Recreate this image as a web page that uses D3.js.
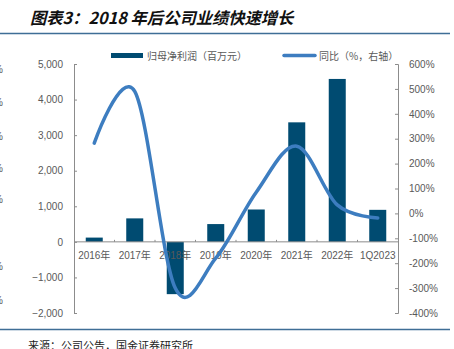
<!DOCTYPE html>
<html><head><meta charset="utf-8">
<script src="https://cdn.jsdelivr.net/npm/d3@7"></script>
<style>body{margin:0;background:#fff}svg{display:block}</style>
</head><body>
<script>
const categories = ["2016年","2017年","2018年","2019年","2020年","2021年","2022年","1Q2023"];
const profit = [120, 660, -1470, 500, 910, 3360, 4580, 900];
const yoy = [282, 490, -300, -180, 85, 270, 34, -18];
const leftTicks = [-2000,-1000,0,1000,2000,3000,4000,5000];
const rightTicks = [-400,-300,-200,-100,0,100,200,300,400,500,600];
const title = "图表3：2018 年后公司业绩快速增长";
const legendBar = "归母净利润（百万元）";
const legendLine = "同比（%，右轴）";
const source = "来源：公司公告，国金证券研究所";

const W=454,H=349;
const svg=d3.select("body").append("svg").attr("width",W).attr("height",H);
const font="'Liberation Sans','Noto Sans CJK SC',sans-serif";
const cjk="'Noto Sans CJK SC',sans-serif";
const barColor="#004b71", lineColor="#3d7dc0", textColor="#595959", axisColor="#8c8c8c";

// title
svg.append("text").attr("x",30).attr("y",24).text(title)
  .attr("font-family",cjk).attr("font-size",16.3).attr("font-weight","bold")
  .attr("font-style","italic").attr("fill","#111");
svg.append("line").attr("x1",0).attr("x2",450).attr("y1",33.5).attr("y2",33.5)
  .attr("stroke","#3f6e96").attr("stroke-width",1.5);
svg.append("line").attr("x1",0).attr("x2",450).attr("y1",329.5).attr("y2",329.5)
  .attr("stroke","#3f6e96").attr("stroke-width",1.5);
svg.append("text").attr("x",28).attr("y",350).text(source)
  .attr("font-family",cjk).attr("font-size",11).attr("fill","#222");

// left cut-off fragments
[69,102,136,168,199,266,300].forEach(y=>{
  svg.append("text").attr("x",3).attr("y",y+4).attr("text-anchor","end")
   .attr("font-family",font).attr("font-size",10).attr("fill",textColor).text("0%");
});

const x=d3.scaleBand().domain(categories).range([74,398]).paddingInner(0.58).paddingOuter(0.29);
const yL=d3.scaleLinear().domain([-2000,5000]).range([313,64]);
const yR=d3.scaleLinear().domain([-400,600]).range([313,64]);

// left axis
const gL=svg.append("g").attr("transform","translate(74,0)")
 .call(d3.axisLeft(yL).tickValues(leftTicks).tickSize(-3).tickPadding(11).tickFormat(d3.format(",")));
gL.select(".domain").attr("stroke",axisColor);
gL.selectAll(".tick line").attr("stroke",axisColor);
gL.selectAll("text").attr("font-family",font).attr("font-size",10).attr("fill",textColor);

// right axis
const gR=svg.append("g").attr("transform","translate(398,0)")
 .call(d3.axisRight(yR).tickValues(rightTicks).tickSize(-3).tickPadding(11).tickFormat(d=>d+"%"));
gR.select(".domain").attr("stroke",axisColor);
gR.selectAll(".tick line").attr("stroke",axisColor);
gR.selectAll("text").attr("font-family",font).attr("font-size",10).attr("fill",textColor);

// bars
svg.append("g").selectAll("rect").data(profit).join("rect")
 .attr("x",(d,i)=>x(categories[i]))
 .attr("width",x.bandwidth())
 .attr("y",d=>yL(Math.max(0,d)))
 .attr("height",d=>Math.abs(yL(d)-yL(0)))
 .attr("fill",barColor);

// zero axis
const gX=svg.append("g").attr("transform",`translate(0,${yL(0)})`)
 .call(d3.axisBottom(x).tickSize(0).tickPadding(10));
gX.select(".domain").attr("stroke",axisColor).attr("d",`M74,0H398`);
gX.selectAll("text").attr("font-family",font).attr("font-size",10).attr("fill",textColor);
const step=x.step();
categories.slice(1).forEach((c,i)=>{
  const xx=x(c)-x.paddingInner()*step/2;
  gX.append("line").attr("x1",xx).attr("x2",xx).attr("y1",0).attr("y2",-2).attr("stroke",axisColor);
});

// line
const line=d3.line().x((d,i)=>x(categories[i])+x.bandwidth()/2).y(d=>yR(d)).curve(d3.curveCardinal.tension(0));
svg.append("path").datum(yoy).attr("d",line).attr("fill","none")
 .attr("stroke",lineColor).attr("stroke-width",3.5).attr("stroke-linecap","round");

// legend
svg.append("rect").attr("x",111).attr("y",53).attr("width",32).attr("height",5).attr("fill",barColor);
svg.append("text").attr("x",147).attr("y",60).text(legendBar).attr("font-family",cjk).attr("font-size",10).attr("fill",textColor);
svg.append("line").attr("x1",284).attr("x2",315).attr("y1",55.5).attr("y2",55.5).attr("stroke",lineColor).attr("stroke-width",3.5).attr("stroke-linecap","round");
svg.append("text").attr("x",319).attr("y",60).text(legendLine).attr("font-family",cjk).attr("font-size",10).attr("fill",textColor);
</script>
</body></html>
